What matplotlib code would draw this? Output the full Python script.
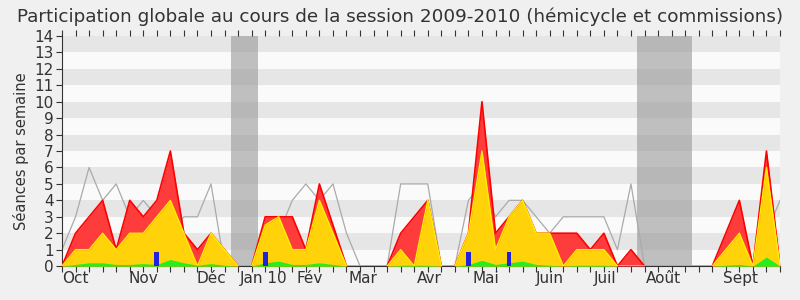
import numpy as np
import matplotlib
matplotlib.use("Agg")
import matplotlib.pyplot as plt

# weekly values, 54 weeks (Oct 2009 -> Sept 2010)
total = [0, 2, 3, 4, 1, 4, 3, 4, 7, 2, 1, 2, 1, 0, 0, 3, 3, 3, 1, 5, 2.5, 0,
         0, 0, 0, 2, 3, 4, 0, 0, 2, 10, 2, 3, 4, 2, 2, 2, 2, 1, 2, 0, 1, 0,
         0, 0, 0, 0, 0, 2, 4, 0, 7, 0]
hemicycle = [0, 1, 1, 2, 1, 2, 2, 3, 4, 2, 0, 2, 1, 0, 0, 2.5, 3, 1, 1, 4, 2, 0,
             0, 0, 0, 1, 0, 4, 0, 0, 2, 7, 1, 3, 4, 2, 2, 0, 1, 1, 1, 0, 0, 0,
             0, 0, 0, 0, 0, 1, 2, 0, 6, 0]
interventions = [0, 0.1, 0.2, 0.2, 0.1, 0.1, 0.15, 0.1, 0.4, 0.2, 0.05, 0.15, 0.05, 0, 0, 0.2, 0.3, 0.1, 0.1, 0.2, 0.1, 0,
                 0, 0, 0, 0.05, 0.05, 0.05, 0, 0, 0.1, 0.35, 0.1, 0.2, 0.3, 0.1, 0.05, 0, 0.05, 0.05, 0.05, 0, 0, 0,
                 0, 0, 0, 0, 0, 0.05, 0.1, 0, 0.55, 0]
moyenne = [1, 3, 6, 4, 5, 3, 4, 3, 2, 3, 3, 5, 0, 0, 0, 0, 2, 4, 5, 4, 5, 2,
           0, 0, 0, 5, 5, 5, 0, 0, 4, 5, 3, 4, 4, 3, 2, 3, 3, 3, 3, 1, 5, 0,
           0, 0, 0, 0, 0, 0, 0, 0, 2, 4]
questions_weeks = [7, 15, 30, 33]
questions_vals = [0.85, 0.85, 0.85, 0.85]
vacances = [(12.45, 14.5), (42.45, 46.5)]
month_labels = ["Oct", "Nov", "Déc", "Jan 10", "Fév", "Mar", "Avr", "Mai", "Juin", "Juil", "Août", "Sept"]
month_pos = [1.0, 6.0, 11.0, 14.9, 18.3, 22.2, 27.1, 31.3, 36.0, 40.1, 44.4, 50.1]

x = np.arange(len(total))

fig = plt.figure(figsize=(8, 3), dpi=100, facecolor="#f0f0f0")
ax = fig.add_axes([0.0775, 0.113, 0.8975, 0.767])
ax.set_facecolor("#fafafa")

# horizontal bands
for k in range(1, 14, 2):
    ax.axhspan(k, k + 1, color="#e6e6e6", lw=0, zorder=0)

for a, b in vacances:
    ax.axvspan(a, b, color="#999999", alpha=0.6, lw=0, zorder=1)

ax.plot(x, moyenne, color="#aaaaaa", lw=0.9, zorder=2)
ax.fill_between(x, 0, total, color="#ff3c3c", lw=0, zorder=3)
ax.plot(x, total, color="#ff0000", lw=1.2, zorder=3)
ax.fill_between(x, 0, hemicycle, color="#ffd20a", lw=0, zorder=4)
ax.plot(x, hemicycle, color="#ffee00", lw=1.0, zorder=4)
ax.fill_between(x, 0, interventions, color="#22ee22", lw=0, zorder=5)
ax.bar(questions_weeks, questions_vals, width=0.35, color="#2222dd", zorder=6)

ax.set_xlim(0, len(total) - 1)
ax.set_ylim(0, 14)
ax.set_yticks(range(0, 15))
ax.set_xticks(x)
ax.set_xticklabels([])
ax.tick_params(axis="x", direction="out", length=4, color="#333333", top=True)
ax.tick_params(axis="y", labelsize=11, length=4, colors="#333333", pad=2)
for p, m in zip(month_pos, month_labels):
    ax.text(p, -0.3, m, ha="center", va="top", fontsize=11, color="#333333")

for s in ["top", "right"]:
    ax.spines[s].set_visible(False)
ax.spines["left"].set_color("#333333")
ax.spines["bottom"].set_color("#333333")

ax.set_ylabel("Séances par semaine", fontsize=10.5, color="#333333", labelpad=4)
fig.text(0.5, 0.975, "Participation globale au cours de la session 2009-2010 (hémicycle et commissions)",
         ha="center", va="top", fontsize=13.2, color="#333333")

fig.savefig("out.png", dpi=100, facecolor=fig.get_facecolor())
